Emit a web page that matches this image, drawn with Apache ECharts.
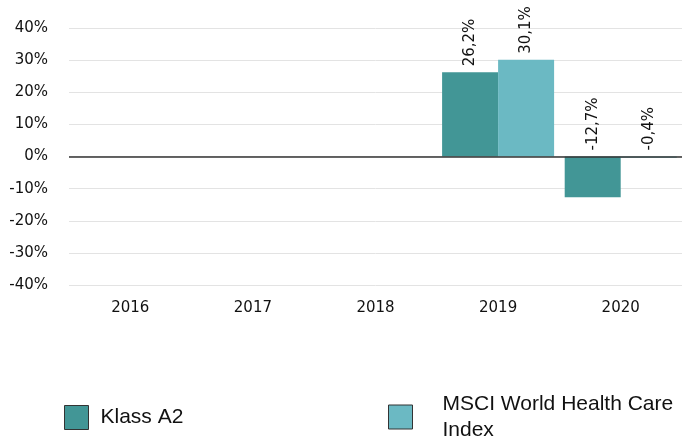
<!DOCTYPE html>
<html>
<head>
<meta charset="utf-8">
<script src="https://cdn.jsdelivr.net/npm/echarts@6/dist/echarts.min.js"></script>
<style>
  html, body { margin: 0; padding: 0; background: #fff; }
  #chart { width: 687px; height: 439px; }
</style>
</head>
<body>
<div id="chart"></div>
<script>
// data
const years = ["2016", "2017", "2018", "2019", "2020"];
const klassA2 = [null, null, null, 26.2, -12.7];
const msciHealth = [null, null, null, 30.1, -0.4];
const seriesNames = ["Klass A2", "MSCI World Health Care Index"];

const fmt = (v) => v.toFixed(1).replace(".", ",") + "%";

const barLabel = {
  show: true,
  position: "top",
  rotate: 90,
  align: "left",
  verticalAlign: "middle",
  distance: 6,
  fontFamily: "DejaVu Sans",
  fontSize: 15,
  color: "#111",
  formatter: (p) => fmt(p.value),
};

const legendText = { fontFamily: "Liberation Sans", fontSize: 21, color: "#111" };

const chart = echarts.init(document.getElementById("chart"), null, { renderer: "canvas" });

chart.setOption({
  animation: false,
  grid: { left: 69, right: 5, top: 28, bottom: 154 },
  legend: [
    {
      data: [seriesNames[0]],
      left: 59,
      top: 400,
      itemWidth: 24,
      itemHeight: 24,
      icon: "rect",
      itemStyle: { borderColor: "#333", borderWidth: 1 },
      textStyle: Object.assign({}, legendText, { padding: [0, 0, 0, 7] }),
    },
    {
      data: [seriesNames[1]],
      left: 383,
      top: 376,
      itemWidth: 24,
      itemHeight: 24,
      icon: "rect",
      itemStyle: { borderColor: "#333", borderWidth: 1 },
      textStyle: Object.assign({}, legendText, {
        width: 245,
        overflow: "break",
        lineHeight: 26,
        padding: [20, 0, 0, 25],
      }),
    },
  ],
  xAxis: {
    type: "category",
    data: years,
    axisLine: { show: false },
    axisTick: { show: false },
    axisLabel: { fontFamily: "DejaVu Sans", fontSize: 15, color: "#111", margin: 16 },
  },
  yAxis: {
    type: "value",
    min: -40,
    max: 40,
    interval: 10,
    axisLine: { show: false },
    axisTick: { show: false },
    axisLabel: {
      fontFamily: "DejaVu Sans",
      fontSize: 15,
      color: "#111",
      margin: 21,
      formatter: (v) => v + "%",
    },
    splitLine: { lineStyle: { color: "#e3e3e3", width: 1 } },
  },
  series: [
    {
      name: seriesNames[0],
      type: "bar",
      data: klassA2,
      barWidth: 56,
      barGap: "0%",
      itemStyle: { color: "#429696" },
      label: barLabel,
      markLine: {
        silent: true,
        symbol: "none",
        label: { show: false },
        lineStyle: { color: "#333", width: 1.5, type: "solid" },
        data: [{ yAxis: 0 }],
      },
    },
    {
      name: seriesNames[1],
      type: "bar",
      data: msciHealth,
      barWidth: 56,
      barGap: "0%",
      itemStyle: { color: "#6bb9c3" },
      label: barLabel,
    },
  ],
});
</script>
</body>
</html>
